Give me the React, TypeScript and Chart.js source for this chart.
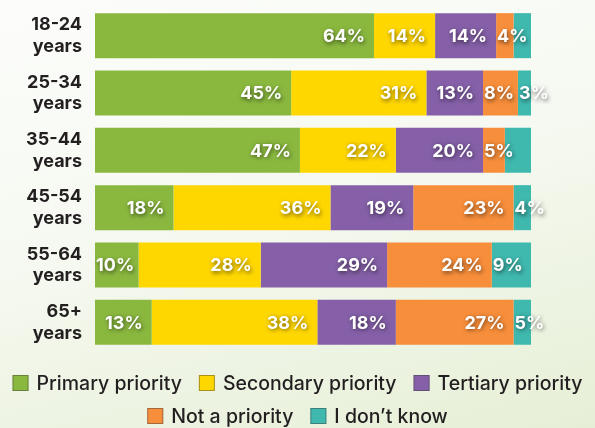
import React, { useEffect, useRef } from "react";
import { Chart, registerables } from "chart.js";

Chart.register(...registerables);

const categories: string[][] = [
  ["18-24", "years"],
  ["25-34", "years"],
  ["35-44", "years"],
  ["45-54", "years"],
  ["55-64", "years"],
  ["65+", "years"],
];

const seriesNames = ["Primary priority", "Secondary priority", "Tertiary priority", "Not a priority", "I don\u2019t know"];
const primary = [64, 45, 47, 18, 10, 13];
const secondary = [14, 31, 22, 36, 28, 38];
const tertiary = [14, 13, 20, 19, 29, 18];
const notPriority = [4, 8, 5, 23, 24, 27];
const dontKnow = [4, 3, 6, 4, 9, 5];
const dontKnowLabelShown = [false, true, false, true, true, true];

const colors = ["#8ab83f", "#ffd700", "#8560a8", "#f78e3b", "#3fb8ae"];

const FONT = "Inter, 'Open Sans', sans-serif";

const labelPlugin = {
  id: "segLabels",
  afterDatasetsDraw(chart: any) {
    const ctx = chart.ctx;
    const area = chart.chartArea;
    ctx.save();
    ctx.font = `700 18px ${FONT}`;
    ctx.textBaseline = "middle";
    ctx.textAlign = "left";
    chart.data.datasets.forEach((ds: any, di: number) => {
      const meta = chart.getDatasetMeta(di);
      meta.data.forEach((el: any, i: number) => {
        if (di === 4 && !dontKnowLabelShown[i]) return;
        const v = ds.data[i];
        const txt = `${v}%`;
        const start = Math.min(el.base, el.x);
        const end = Math.min(Math.max(el.base, el.x), area.right);
        const w = ctx.measureText(txt).width;
        let left = end - 9 - w;
        if (left < start + 1) left = start + 1;
        ctx.shadowColor = "rgba(0,0,0,0.55)";
        ctx.shadowBlur = 4;
        ctx.shadowOffsetX = 1;
        ctx.shadowOffsetY = 1.5;
        ctx.fillStyle = "#ffffff";
        ctx.fillText(txt, left, el.y + 1);
      });
    });
    ctx.restore();
  },
};

const legendPlugin = {
  id: "customLegend",
  afterDraw(chart: any) {
    const ctx = chart.ctx;
    const W = chart.width;
    const rows = [[0, 1, 2], [3, 4]];
    const rowY = [383, 416];
    const box = 16;
    const gapText = 8;
    const gapItem = 17;
    ctx.save();
    ctx.font = `500 19.5px ${FONT}`;
    ctx.textBaseline = "middle";
    ctx.textAlign = "left";
    rows.forEach((r, ri) => {
      const widths = r.map((k) => box + gapText + ctx.measureText(seriesNames[k]).width);
      const total = widths.reduce((a, b) => a + b, 0) + gapItem * (r.length - 1);
      let x = (W - total) / 2;
      const y = rowY[ri];
      r.forEach((k, j) => {
        ctx.fillStyle = colors[k];
        ctx.fillRect(x, y - box / 2, box, box);
        ctx.strokeStyle = "rgba(60,60,60,0.45)";
        ctx.lineWidth = 1;
        ctx.strokeRect(x + 0.5, y - box / 2 + 0.5, box - 1, box - 1);
        ctx.fillStyle = "#231f20";
        ctx.fillText(seriesNames[k], x + box + gapText, y + 1);
        x += widths[j] + gapItem;
      });
    });
    ctx.restore();
  },
};

export default function App() {
  const ref = useRef<HTMLCanvasElement | null>(null);
  useEffect(() => {
    if (!ref.current) return;
    const seriesData = [primary, secondary, tertiary, notPriority, dontKnow];
    const chart = new Chart(ref.current, {
      type: "bar",
      data: {
        labels: categories,
        datasets: seriesData.map((d, i) => ({
          label: seriesNames[i],
          data: d,
          backgroundColor: colors[i],
          borderWidth: 0,
          categoryPercentage: 1,
          barPercentage: 0.785,
        })),
      },
      options: {
        indexAxis: "y",
        animation: false,
        responsive: false,
        maintainAspectRatio: false,
        layout: { padding: { top: 7, right: 64, bottom: 77, left: 0 } },
        plugins: {
          legend: { display: false },
          tooltip: { enabled: false },
        },
        scales: {
          x: {
            stacked: true,
            min: 0,
            max: 100,
            display: false,
          },
          y: {
            stacked: true,
            grid: { display: false, drawTicks: false },
            border: { display: false },
            afterFit: (scale: any) => {
              scale.width = 95;
              scale.paddingTop = 0;
              scale.paddingBottom = 0;
            },
            ticks: {
              padding: 13,
              color: "#231f20",
              font: { family: FONT, size: 18, weight: "bold" },
            },
          },
        },
      },
      plugins: [labelPlugin, legendPlugin],
    });
    return () => chart.destroy();
  }, []);
  return (
    <div
      style={{
        position: "absolute",
        left: 0,
        top: 0,
        width: 595,
        height: 428,
        background: "linear-gradient(165deg, #fcfdfb 0%, #f6f9f1 45%, #e6efd6 100%)",
      }}
    >
      <canvas ref={ref} width={595} height={428} style={{ display: "block" }} />
    </div>
  );
}
